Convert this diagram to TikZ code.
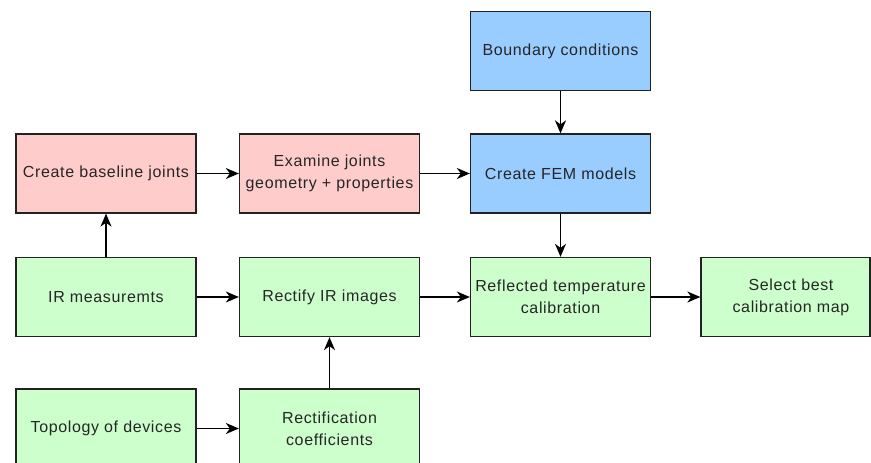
\documentclass[tikz,border=0pt]{standalone}
\usepackage{fontspec}
\setmainfont{Liberation Sans}[LetterSpace=4]
\usetikzlibrary{arrows.meta}
\definecolor{pinkf}{HTML}{FFCCCC}
\definecolor{bluef}{HTML}{99CCFF}
\definecolor{greenf}{HTML}{CCFFCC}
\definecolor{edge}{HTML}{222222}
\tikzset{
  box/.style={draw=edge, line width=1.3pt, minimum width=180pt, minimum height=79pt,
    inner sep=0pt, align=center, text=black!85, font=\fontsize{16}{22}\selectfont},
  pinkbox/.style={box, fill=pinkf},
  bluebox/.style={box, fill=bluef},
  greenbox/.style={box, fill=greenf},
  conn/.style={draw=black, line width=1.3pt, -{Stealth[length=13pt,width=11pt,inset=4pt]}}
}
\begin{document}
\begin{tikzpicture}[x=1pt,y=-1pt]
\useasboundingbox (0,0) rectangle (871,463);
\clip (0,0) rectangle (871,463);
\fill[white] (0,0) rectangle (871,463);
\node[bluebox] (bc) at (560.5,51) {Boundary conditions};
\node[pinkbox] (cbj) at (106,173.5) {Create baseline joints};
\node[pinkbox] (ej) at (329.5,173.5) {Examine joints\\geometry + properties};
\node[bluebox] (fem) at (560.5,173.5) {Create FEM models};
\node[greenbox] (ir) at (106,297) {IR measuremts};
\node[greenbox] (rir) at (329.5,297) {Rectify IR images};
\node[greenbox] (rtc) at (560.5,297) {Reflected temperature\\calibration};
\node[greenbox, minimum width=169pt] (sel) at (785.5,297) {\hspace*{11pt}Select best\\\hspace*{11pt}calibration map};
\node[greenbox] (top) at (106,428.5) {Topology of devices};
\node[greenbox] (rc) at (329.5,428.5) {Rectification\\coefficients};
\draw[conn] (bc) -- (fem);
\draw[conn] (cbj) -- (ej);
\draw[conn] (ej) -- (fem);
\draw[conn] (ir) -- (cbj);
\draw[conn] (ir) -- (rir);
\draw[conn] (fem) -- (rtc);
\draw[conn] (rir) -- (rtc);
\draw[conn] (rtc) -- (sel);
\draw[conn] (top) -- (rc);
\draw[conn] (rc) -- (rir);
\end{tikzpicture}
\end{document}
